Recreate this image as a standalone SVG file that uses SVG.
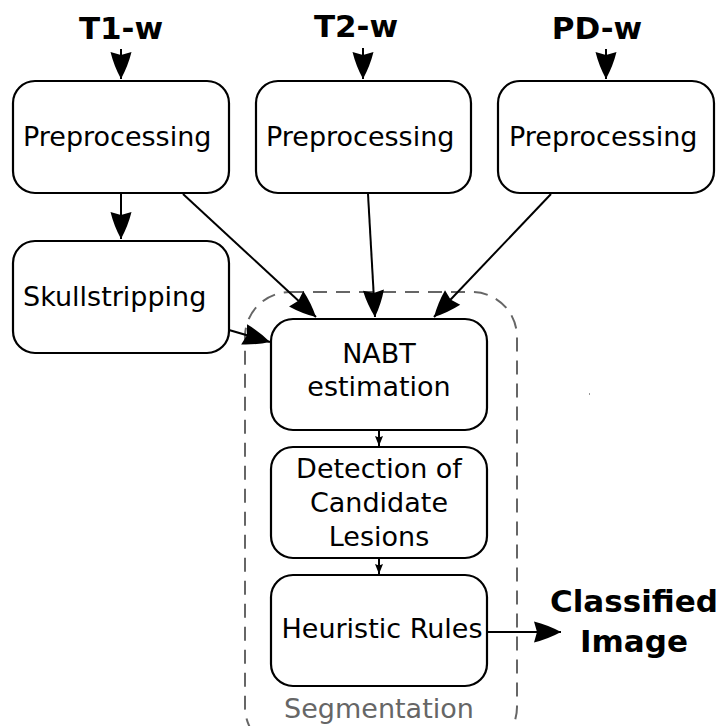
<svg xmlns="http://www.w3.org/2000/svg" width="719" height="726" viewBox="0 0 719 726">
<style>
.box{fill:#fff;stroke:#000;stroke-width:2.2}
.t{font-family:"DejaVu Sans",sans-serif;font-size:27px;fill:#000}
.b{font-family:"DejaVu Sans",sans-serif;font-size:31px;font-weight:bold;fill:#000}
.c{stroke:#000;stroke-width:2;fill:none}
</style>
<defs>
<marker id="big" markerUnits="userSpaceOnUse" viewBox="-30 -12 32 24" markerWidth="32" markerHeight="24" refX="0" refY="0" orient="auto">
<path d="M0,0 Q-13,-7 -27,-10.5 L-24,0 L-27,10.5 Q-13,7 0,0 Z" fill="#000"/>
</marker>
<marker id="small" markerUnits="userSpaceOnUse" viewBox="-12 -6 14 12" markerWidth="14" markerHeight="12" refX="0" refY="0" orient="auto">
<path d="M0,0 L-10,-4 L-8.5,0 L-10,4 Z" fill="#000"/>
</marker>
</defs>
<rect width="719" height="726" fill="#fff"/>
<g id="segmentation">
<rect x="245" y="292" width="272" height="460" rx="45" fill="none" stroke="#666" stroke-width="2" stroke-dasharray="14,9"/>
<text x="379" y="718" text-anchor="middle" style="font-family:'DejaVu Sans',sans-serif;font-size:27px;fill:#666">Segmentation</text>
</g>
<g id="connectors">
<line class="c" x1="121" y1="49" x2="121" y2="79" marker-end="url(#big)"/>
<line class="c" x1="363" y1="48" x2="363" y2="79" marker-end="url(#big)"/>
<line class="c" x1="606" y1="49" x2="606" y2="79" marker-end="url(#big)"/>
<line class="c" x1="121" y1="194" x2="121" y2="239" marker-end="url(#big)"/>
<line class="c" x1="183" y1="194" x2="316" y2="317" marker-end="url(#big)"/>
<line class="c" x1="368" y1="194" x2="375" y2="317" marker-end="url(#big)"/>
<line class="c" x1="551" y1="194" x2="434" y2="317" marker-end="url(#big)"/>
<line class="c" x1="229" y1="330" x2="270" y2="342" marker-end="url(#big)"/>
<line class="c" x1="379" y1="431" x2="379" y2="446" marker-end="url(#small)"/>
<line class="c" x1="379" y1="559" x2="379" y2="574" marker-end="url(#small)"/>
<line class="c" x1="487" y1="632" x2="561" y2="632" marker-end="url(#big)"/>
</g>
<g id="t1w"><text class="b" x="121" y="39" text-anchor="middle">T1-w</text></g>
<g id="t2w"><text class="b" x="356" y="37" text-anchor="middle">T2-w</text></g>
<g id="pdw"><text class="b" x="597" y="39" text-anchor="middle">PD-w</text></g>
<g id="pre1"><rect class="box" x="13" y="81" width="216" height="112" rx="22"/><text class="t" x="23" y="146">Preprocessing</text></g>
<g id="pre2"><rect class="box" x="256" y="81" width="215" height="112" rx="22"/><text class="t" x="266" y="146">Preprocessing</text></g>
<g id="pre3"><rect class="box" x="498" y="81" width="216" height="112" rx="22"/><text class="t" x="509" y="146">Preprocessing</text></g>
<g id="skull"><rect class="box" x="13" y="241" width="216" height="112" rx="22"/><text class="t" x="23" y="306">Skullstripping</text></g>
<g id="nabt"><rect class="box" x="271" y="319" width="216" height="111" rx="22"/><text class="t" x="379" y="363" text-anchor="middle">NABT</text><text class="t" x="379" y="396" text-anchor="middle">estimation</text></g>
<g id="detection"><rect class="box" x="271" y="447" width="216" height="111" rx="22"/><text class="t" x="379" y="478" text-anchor="middle">Detection of</text><text class="t" x="379" y="512" text-anchor="middle">Candidate</text><text class="t" x="379" y="546" text-anchor="middle">Lesions</text></g>
<g id="heuristic"><rect class="box" x="271" y="575" width="216" height="111" rx="22"/><text class="t" x="382" y="638" text-anchor="middle">Heuristic Rules</text></g>
<g id="classified"><text class="b" x="634" y="612" text-anchor="middle">Classified</text><text class="b" x="634" y="652" text-anchor="middle">Image</text></g>
<rect x="589" y="393" width="1" height="2" fill="#999"/>
</svg>
